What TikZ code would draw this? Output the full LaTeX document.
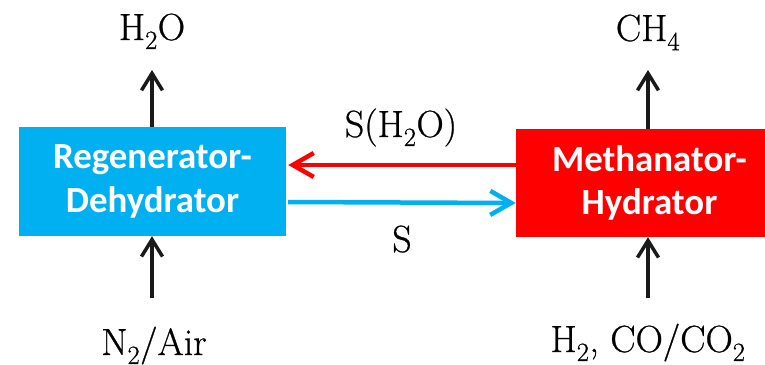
\documentclass[tikz,border=0pt]{standalone}
\usepackage{fontspec}
\usetikzlibrary{arrows.meta}
\newfontfamily\boxfont{Carlito}
\newfontfamily\speciesfont{Latin Modern Roman}[FakeBold=0.7]
\definecolor{regblue}{HTML}{00B0F0}
\definecolor{methred}{HTML}{FF0000}
\definecolor{flowblack}{HTML}{1A1A1A}
\tikzset{
  unitbox/.style={rectangle, inner sep=0pt, minimum width=267bp,
    text=white, align=center,
    font=\boxfont\bfseries\fontsize{37}{44}\selectfont},
  species/.style={inner sep=0pt, anchor=base,
    font=\speciesfont\fontsize{38}{42}\selectfont},
  feed/.style={draw=flowblack, line width=3.5bp,
    -{Straight Barb[length=17bp,width=21bp]}},
  transfer/.style={line width=4.5bp,
    -{Straight Barb[length=21bp,width=24bp]}}
}
\begin{document}
\begin{tikzpicture}[x=1bp,y=-1bp]
  \useasboundingbox (0,0) rectangle (765,364);
  \clip (0,0) rectangle (765,364);

  % process units
  \node[unitbox, fill=regblue, minimum height=109bp] (regen) at (152.5,181.5)
    {Regenerator-\\Dehydrator};
  \node[unitbox, fill=methred, minimum height=108bp] (meth) at (649.5,183)
    {Methanator-\\Hydrator};

  % stream labels
  \node[species] (h2o) at (152,40) {H\textsubscript{2}O};
  \node[species] (ch4) at (648,41) {CH\textsubscript{4}};
  \node[species] (air) at (154,355) {N\textsubscript{2}/Air};
  \node[species] (syngas) at (648,352) {H\textsubscript{2}, CO/CO\textsubscript{2}};
  \node[species] (wet) at (401,137) {S(H\textsubscript{2}O)};
  \node[species] (dry) at (402,252) {S};

  % arrow ends
  \coordinate (h2oend) at (152,70);
  \coordinate (ch4end) at (648,70);
  \coordinate (airend) at (152,298);
  \coordinate (gasend) at (648,298);

  % feeds and products
  \draw[feed] (regen.north -| h2oend) -- (h2oend);
  \draw[feed] (meth.north -| ch4end) -- (ch4end);
  \draw[feed] (airend) -- (regen.south -| airend);
  \draw[feed] (gasend) -- (meth.south -| gasend);

  % solid sorbent loop
  \draw[transfer, draw=methred] (meth.west |- 0,165) -- ([xshift=2bp]regen.east |- 0,165);
  \draw[transfer, draw=regblue] ([xshift=2bp]regen.east |- 0,202) -- (meth.west |- 0,203);
\end{tikzpicture}
\end{document}
